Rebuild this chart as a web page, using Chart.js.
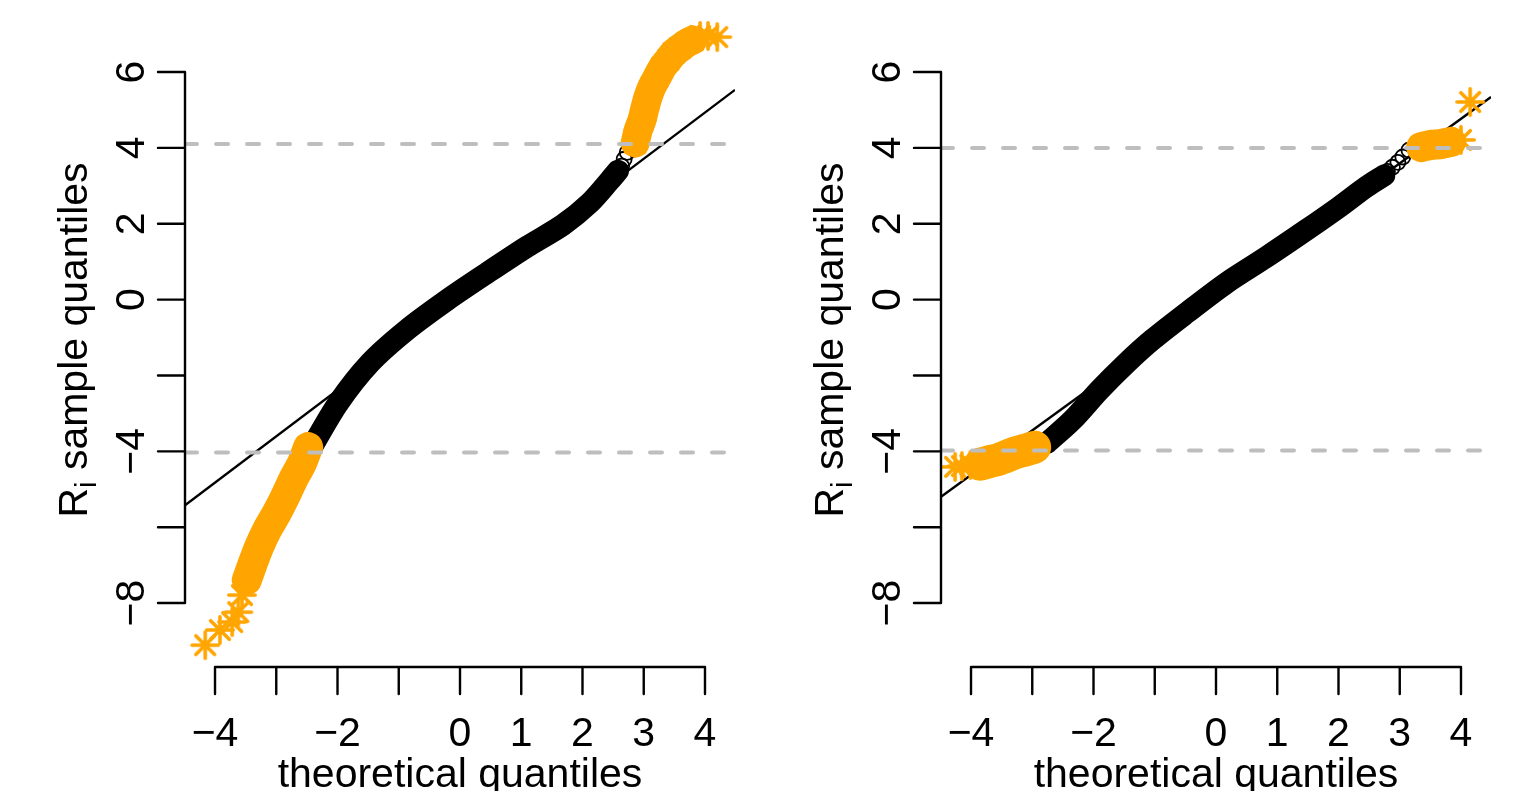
<!DOCTYPE html>
<html>
<head>
<meta charset="utf-8">
<script src="https://cdn.jsdelivr.net/npm/chart.js@4"></script>
<style>
  body { margin: 0; background: #fff; }
  #wrap { position: relative; width: 1524px; height: 791px; overflow: hidden; }
  canvas { position: absolute; top: 0; }
</style>
</head>
<body>
<div id="wrap">
  <canvas id="qqLeft" width="756" height="791" style="left:0px"></canvas>
  <canvas id="qqRight" width="768" height="791" style="left:756px"></canvas>
</div>
<script>
// ticks shared by both panels (R drops the labels that would overlap)
var xTicks = [-4, -3, -2, -1, 0, 1, 2, 3, 4];
var xTickLabels = ['\u22124', '', '\u22122', '', '0', '1', '2', '3', '4'];
var yTicks = [-8, -6, -4, -2, 0, 2, 4, 6];
var yTickLabels = ['\u22128', '', '\u22124', '', '0', '2', '4', '6'];
var xTitle = 'theoretical quantiles';

// ---- left panel ----
// dense part of the cloud (black circles merge into a band)
var leftBandX = [-2.42, -1.99, -1.47, -0.87, -0.21, 0.44, 1.09, 1.68, 2.12, 2.45, 2.58];
var leftBandY = [-3.89, -2.73, -1.67, -0.80, -0.01, 0.70, 1.39, 1.97, 2.55, 3.15, 3.40];
// single circles visible at the end of the band
var leftCircX = [2.55, 2.6, 2.64, 2.68, 2.73];
var leftCircY = [3.28, 3.38, 3.52, 3.70, 3.88];
// flagged points (orange stars), lower tail
var leftLowX = [-2.48, -2.58, -2.73, -2.86, -2.99, -3.15, -3.28, -3.38, -3.48];
var leftLowY = [-3.89, -4.31, -4.76, -5.21, -5.62, -6.07, -6.52, -6.94, -7.39];
var leftLowStarX = [-3.56, -3.62, -3.72, -3.92, -4.16];
var leftLowStarY = [-7.79, -8.24, -8.50, -8.71, -9.11];
// upper tail
var leftHighX = [2.86, 2.91, 2.97, 3.02, 3.07, 3.13, 3.22, 3.30, 3.40, 3.49, 3.59, 3.71, 3.80];
var leftHighY = [4.13, 4.47, 4.73, 5.05, 5.34, 5.60, 5.87, 6.11, 6.32, 6.50, 6.63, 6.77, 6.84];
var leftHighStarX = [3.92, 4.05, 4.20];
var leftHighStarY = [6.95, 6.95, 6.92];
// qq line end points and thresholds
var leftLineX = [-4.49, 4.49];
var leftLineY = [-5.42, 5.53];
var leftCut = [4.10, -4.03];

// ---- right panel ----
var rightBandX = [-2.76, -2.34, -1.90, -1.46, -1.04, -0.48, 0.17, 0.82, 1.47, 2.01, 2.45, 2.75];
var rightBandY = [-3.78, -3.17, -2.38, -1.67, -1.06, -0.35, 0.44, 1.12, 1.83, 2.44, 2.97, 3.28];
var rightCircX = [-2.90, -2.84, 2.80, 2.88, 2.97, 3.05, 3.15];
var rightCircY = [-3.95, -3.88, 3.38, 3.49, 3.62, 3.76, 3.94];
var rightLowX = [-2.96, -3.12, -3.28, -3.45, -3.58, -3.72, -3.85];
var rightLowY = [-3.89, -3.97, -4.04, -4.15, -4.23, -4.28, -4.34];
var rightLowStarX = [-4.01, -4.15, -4.26];
var rightLowStarY = [-4.36, -4.39, -4.41];
var rightHighX = [3.35, 3.51, 3.67, 3.84];
var rightHighY = [4.02, 4.08, 4.10, 4.16];
var rightHighStarX = [4.00, 4.15];
var rightHighStarY = [4.21, 5.21];
var rightLineX = [-4.49, 4.49];
var rightLineY = [-5.20, 5.34];
var rightCut = [4.00, -3.98];

var ORANGE = '#FFA500';
var GREY = '#BEBEBE';
var FONT = "'Liberation Sans', Arial, sans-serif";

function pts(xs, ys) {
    return xs.map(function (x, i) { return { x: x, y: ys[i] }; });
}

// R's pch = 8 asterisk, used as a point image
var star = document.createElement('canvas');
star.width = 36;
star.height = 36;
(function () {
    var c = star.getContext('2d'), r = 13.2;
    c.strokeStyle = ORANGE;
    c.lineWidth = 3.6;
    c.lineCap = 'round';
    c.beginPath();
    for (var k = 0; k < 4; k++) {
        var a = k * Math.PI / 4;
        c.moveTo(18 - r * Math.cos(a), 18 - r * Math.sin(a));
        c.lineTo(18 + r * Math.cos(a), 18 + r * Math.sin(a));
    }
    c.stroke();
})();

// R style axes, drawn with the chart's own scales
var rAxes = {
    id: 'rAxes',
    afterDraw: function (chart) {
        var ctx = chart.ctx;
        var xs = chart.scales.x, ys = chart.scales.y;
        var area = chart.chartArea;
        var tick = 27;
        ctx.save();
        ctx.strokeStyle = '#000';
        ctx.fillStyle = '#000';
        ctx.lineWidth = 2.4;
        ctx.lineCap = 'round';

        // x axis
        var yb = area.bottom;
        ctx.beginPath();
        ctx.moveTo(xs.getPixelForValue(xTicks[0]), yb);
        ctx.lineTo(xs.getPixelForValue(xTicks[xTicks.length - 1]), yb);
        xTicks.forEach(function (t) {
            var px = xs.getPixelForValue(t);
            ctx.moveTo(px, yb);
            ctx.lineTo(px, yb + tick);
        });
        ctx.stroke();
        ctx.font = '41px ' + FONT;
        ctx.textAlign = 'center';
        ctx.textBaseline = 'alphabetic';
        xTicks.forEach(function (t, i) {
            ctx.fillText(xTickLabels[i], xs.getPixelForValue(t), 746);
        });
        ctx.fillText(xTitle, (area.left + area.right) / 2, 787);

        // y axis
        var xl = area.left;
        ctx.beginPath();
        ctx.moveTo(xl, ys.getPixelForValue(yTicks[0]));
        ctx.lineTo(xl, ys.getPixelForValue(yTicks[yTicks.length - 1]));
        yTicks.forEach(function (t) {
            var py = ys.getPixelForValue(t);
            ctx.moveTo(xl, py);
            ctx.lineTo(xl - tick, py);
        });
        ctx.stroke();
        yTicks.forEach(function (t, i) {
            ctx.save();
            ctx.translate(xl - 41, ys.getPixelForValue(t));
            ctx.rotate(-Math.PI / 2);
            ctx.fillText(yTickLabels[i], 0, 0);
            ctx.restore();
        });

        // y title: R with subscript i
        var cy = (area.top + area.bottom) / 2;
        ctx.save();
        ctx.translate(xl - 98, cy);
        ctx.rotate(-Math.PI / 2);
        ctx.textAlign = 'left';
        ctx.font = '41px ' + FONT;
        var wR = ctx.measureText('R').width;
        var wRest = ctx.measureText(' sample quantiles').width;
        ctx.font = '29px ' + FONT;
        var wi = ctx.measureText('i').width;
        var x0 = -(wR + wi + wRest) / 2;
        ctx.font = '41px ' + FONT;
        ctx.fillText('R', x0, 0);
        ctx.font = '29px ' + FONT;
        ctx.fillText('i', x0 + wR, 9);
        ctx.font = '41px ' + FONT;
        ctx.fillText(' sample quantiles', x0 + wR + wi, 0);
        ctx.restore();

        ctx.restore();
    }
};

function makePanel(id, d, rightPad) {
    var left = -4.49, right = 4.49;
    new Chart(document.getElementById(id), {
        type: 'scatter',
        data: {
            datasets: [
                { // thresholds, drawn on top
                    data: [{ x: left, y: d.cut[0] }, { x: right, y: d.cut[0] }],
                    showLine: true, borderColor: GREY, borderWidth: 4,
                    borderDash: [12, 19], borderCapStyle: 'round', pointRadius: 0, order: 0
                },
                {
                    data: [{ x: left, y: d.cut[1] }, { x: right, y: d.cut[1] }],
                    showLine: true, borderColor: GREY, borderWidth: 4,
                    borderDash: [12, 19], borderCapStyle: 'round', pointRadius: 0, order: 0
                }
            ].concat(d.orange.map(function (o) {
                return {
                    data: o.data, showLine: o.width > 0, borderColor: ORANGE, borderWidth: o.width,
                    borderCapStyle: 'round', borderJoinStyle: 'round', tension: 0.2,
                    pointStyle: star, pointRadius: 13, order: 1
                };
            })).concat([
                {
                    data: d.circles, showLine: false, pointStyle: 'circle', pointRadius: 7.5,
                    pointBorderWidth: 1.8, pointBorderColor: '#000',
                    pointBackgroundColor: 'rgba(0,0,0,0)', order: 2
                },
                {
                    data: d.band, showLine: true, borderColor: '#000', borderWidth: 22,
                    borderCapStyle: 'round', borderJoinStyle: 'round', tension: 0.3,
                    pointRadius: 0, order: 3
                },
                { // qq line underneath the points
                    data: d.line, showLine: true, borderColor: '#000', borderWidth: 2.4,
                    pointRadius: 0, order: 4
                }
            ])
        },
        options: {
            responsive: false,
            animation: false,
            events: [],
            layout: {
                autoPadding: false,
                padding: { left: 185, right: rightPad, top: 13, bottom: 124 }
            },
            plugins: { legend: { display: false }, tooltip: { enabled: false } },
            scales: {
                x: { type: 'linear', min: left, max: right, display: false },
                y: { type: 'linear', min: -9.686, max: 7.556, display: false }
            }
        },
        plugins: [rAxes]
    });
}

makePanel('qqLeft', {
    band: pts(leftBandX, leftBandY),
    circles: pts(leftCircX, leftCircY),
    orange: [
        { data: pts(leftLowX, leftLowY), width: 30 },
        { data: pts(leftLowStarX, leftLowStarY), width: 0 },
        { data: pts(leftHighX, leftHighY), width: 29 },
        { data: pts(leftHighStarX, leftHighStarY), width: 0 }
    ],
    line: pts(leftLineX, leftLineY),
    cut: leftCut
}, 21);

makePanel('qqRight', {
    band: pts(rightBandX, rightBandY),
    circles: pts(rightCircX, rightCircY),
    orange: [
        { data: pts(rightLowX, rightLowY), width: 33 },
        { data: pts(rightLowStarX, rightLowStarY), width: 0 },
        { data: pts(rightHighX, rightHighY), width: 30 },
        { data: pts(rightHighStarX, rightHighStarY), width: 0 }
    ],
    line: pts(rightLineX, rightLineY),
    cut: rightCut
}, 33);
</script>
</body>
</html>
